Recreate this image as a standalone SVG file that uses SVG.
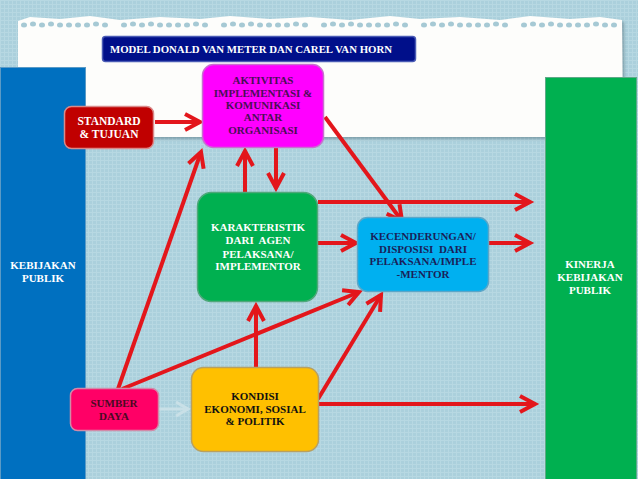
<svg xmlns="http://www.w3.org/2000/svg" width="638" height="479" viewBox="0 0 638 479">
<defs>
<pattern id="grid" width="4" height="4" patternUnits="userSpaceOnUse">
<rect width="4" height="4" fill="#abd0dc"/>
<path d="M0,0.5 H4 M0.5,0 V4" stroke="#b7d8e2" stroke-width="1"/>
</pattern>
<marker id="ah" markerUnits="userSpaceOnUse" viewBox="-18 -10 20 20" refX="0" refY="0" markerWidth="20" markerHeight="20" orient="auto" overflow="visible">
<path d="M-15,-8 L0,0 L-15,8" fill="none" stroke="#e3161b" stroke-width="4" stroke-linejoin="miter"/>
</marker>
<marker id="ahg" markerUnits="userSpaceOnUse" viewBox="-18 -10 20 20" refX="0" refY="0" markerWidth="20" markerHeight="20" orient="auto" overflow="visible">
<path d="M-12,-7 L0,0 L-12,7" fill="none" stroke="#c9e0e7" stroke-width="3"/>
</marker>
<filter id="sh" x="-5%" y="-5%" width="115%" height="120%">
<feDropShadow dx="2" dy="2" stdDeviation="1.5" flood-color="#5a7a85" flood-opacity="0.6"/>
</filter>
</defs>
<style>
.t{font-family:"Liberation Serif","Times New Roman",serif;font-weight:bold;text-anchor:middle;font-size:11px}
.c{fill:none;stroke:#e3161b;stroke-width:4;marker-end:url(#ah)}
.h{fill:#a6c9d4}
</style>
<rect width="638" height="479" fill="url(#grid)"/>
<g id="paper">
<path d="M18,21 L30,17 L60,19 L90,16 L120,20 L160,17 L200,19 L230,16 L270,19 L310,17 L350,20 L390,16 L420,19 L460,17 L500,20 L530,16 L570,19 L600,17 L622,20 L623,137 L18,137 Z" fill="#fdfdfb" filter="url(#sh)"/>
<g class="h">
<ellipse class="h" cx="24" cy="25" rx="3" ry="2.5"/><ellipse class="h" cx="33" cy="24" rx="3" ry="2.5"/><ellipse class="h" cx="42" cy="25" rx="3" ry="2.5"/><ellipse class="h" cx="51" cy="24" rx="3" ry="2.5"/><ellipse class="h" cx="60" cy="25" rx="3" ry="2.5"/><ellipse class="h" cx="69" cy="25" rx="3" ry="2.5"/><ellipse class="h" cx="78" cy="25" rx="3" ry="2.5"/><ellipse class="h" cx="87" cy="25" rx="3" ry="2.5"/><ellipse class="h" cx="96" cy="24" rx="3" ry="2.5"/><ellipse class="h" cx="105" cy="25" rx="3" ry="2.5"/>
<ellipse class="h" cx="124" cy="25" rx="3" ry="2.5"/><ellipse class="h" cx="133" cy="24" rx="3" ry="2.5"/><ellipse class="h" cx="142" cy="25" rx="3" ry="2.5"/><ellipse class="h" cx="151" cy="24" rx="3" ry="2.5"/><ellipse class="h" cx="160" cy="25" rx="3" ry="2.5"/><ellipse class="h" cx="169" cy="25" rx="3" ry="2.5"/><ellipse class="h" cx="178" cy="25" rx="3" ry="2.5"/><ellipse class="h" cx="187" cy="25" rx="3" ry="2.5"/><ellipse class="h" cx="196" cy="24" rx="3" ry="2.5"/><ellipse class="h" cx="205" cy="25" rx="3" ry="2.5"/>
<ellipse class="h" cx="224" cy="25" rx="3" ry="2.5"/><ellipse class="h" cx="233" cy="24" rx="3" ry="2.5"/><ellipse class="h" cx="242" cy="25" rx="3" ry="2.5"/><ellipse class="h" cx="251" cy="24" rx="3" ry="2.5"/><ellipse class="h" cx="260" cy="25" rx="3" ry="2.5"/><ellipse class="h" cx="269" cy="25" rx="3" ry="2.5"/><ellipse class="h" cx="278" cy="25" rx="3" ry="2.5"/><ellipse class="h" cx="287" cy="25" rx="3" ry="2.5"/><ellipse class="h" cx="296" cy="24" rx="3" ry="2.5"/><ellipse class="h" cx="305" cy="25" rx="3" ry="2.5"/>
<ellipse class="h" cx="324" cy="25" rx="3" ry="2.5"/><ellipse class="h" cx="333" cy="24" rx="3" ry="2.5"/><ellipse class="h" cx="342" cy="25" rx="3" ry="2.5"/><ellipse class="h" cx="351" cy="24" rx="3" ry="2.5"/><ellipse class="h" cx="360" cy="25" rx="3" ry="2.5"/><ellipse class="h" cx="369" cy="25" rx="3" ry="2.5"/><ellipse class="h" cx="378" cy="25" rx="3" ry="2.5"/><ellipse class="h" cx="387" cy="25" rx="3" ry="2.5"/><ellipse class="h" cx="396" cy="24" rx="3" ry="2.5"/><ellipse class="h" cx="405" cy="25" rx="3" ry="2.5"/>
<ellipse class="h" cx="424" cy="25" rx="3" ry="2.5"/><ellipse class="h" cx="433" cy="24" rx="3" ry="2.5"/><ellipse class="h" cx="442" cy="25" rx="3" ry="2.5"/><ellipse class="h" cx="451" cy="24" rx="3" ry="2.5"/><ellipse class="h" cx="460" cy="25" rx="3" ry="2.5"/><ellipse class="h" cx="469" cy="25" rx="3" ry="2.5"/><ellipse class="h" cx="478" cy="25" rx="3" ry="2.5"/><ellipse class="h" cx="487" cy="25" rx="3" ry="2.5"/><ellipse class="h" cx="496" cy="24" rx="3" ry="2.5"/><ellipse class="h" cx="505" cy="25" rx="3" ry="2.5"/>
<ellipse class="h" cx="524" cy="25" rx="3" ry="2.5"/><ellipse class="h" cx="533" cy="24" rx="3" ry="2.5"/><ellipse class="h" cx="542" cy="25" rx="3" ry="2.5"/><ellipse class="h" cx="551" cy="24" rx="3" ry="2.5"/><ellipse class="h" cx="560" cy="25" rx="3" ry="2.5"/><ellipse class="h" cx="569" cy="25" rx="3" ry="2.5"/><ellipse class="h" cx="578" cy="25" rx="3" ry="2.5"/><ellipse class="h" cx="587" cy="25" rx="3" ry="2.5"/><ellipse class="h" cx="596" cy="24" rx="3" ry="2.5"/><ellipse class="h" cx="605" cy="25" rx="3" ry="2.5"/><ellipse class="h" cx="614" cy="25" rx="3" ry="2.5"/>
</g>
</g>
<g id="title">
<rect x="102.5" y="36.5" width="313" height="25" rx="3" fill="#000f8a" stroke="#4a5bb5" stroke-width="1.5"/>
<text class="t" x="251" y="53" fill="#ffffff" style="font-size:10.8px">MODEL DONALD VAN METER DAN CAREL VAN HORN</text>
</g>
<g id="kebijakan">
<rect x="0.5" y="67.5" width="85" height="412" fill="#0070c0" stroke="#5a9ac6" stroke-width="1"/>
<text class="t" fill="#ffffff" x="43" y="269">KEBIJAKAN</text>
<text class="t" fill="#ffffff" x="43" y="282">PUBLIK</text>
</g>
<g id="kinerja">
<rect x="545.5" y="77.5" width="91" height="402" fill="#00b050" stroke="#5fa988" stroke-width="1"/>
<text class="t" fill="#ffffff" x="590" y="268">KINERJA</text>
<text class="t" fill="#ffffff" x="590" y="281">KEBIJAKAN</text>
<text class="t" fill="#ffffff" x="590" y="294">PUBLIK</text>
</g>
<g id="connectors">
<line class="c" x1="155" y1="122" x2="200" y2="122"/>
<line class="c" x1="245" y1="192" x2="245" y2="151"/>
<line class="c" x1="276" y1="148" x2="276" y2="188"/>
<line class="c" x1="118" y1="389" x2="201" y2="152"/>
<line class="c" x1="325" y1="117" x2="402" y2="221"/>
<line class="c" x1="318" y1="202" x2="530" y2="202"/>
<line class="c" x1="318" y1="243" x2="356" y2="243"/>
<line class="c" x1="489" y1="243" x2="530" y2="243"/>
<line class="c" x1="122" y1="389" x2="359" y2="292"/>
<line class="c" x1="256" y1="367" x2="256" y2="306"/>
<line class="c" x1="318" y1="399" x2="381" y2="295"/>
<line class="c" x1="316" y1="404" x2="535" y2="404"/>
<line x1="159" y1="409" x2="188" y2="409" stroke="#c9e0e7" stroke-width="3" marker-end="url(#ahg)"/>
</g>
<g id="standard">
<rect x="64.5" y="106.5" width="89" height="42" rx="7" fill="#c00000" stroke="#d98a8a" stroke-width="1.5"/>
<text class="t" fill="#ffffff" x="109" y="125" style="font-size:11.5px">STANDARD</text>
<text class="t" fill="#ffffff" x="109" y="138" style="font-size:11.5px">&amp; TUJUAN</text>
</g>
<g id="aktivitas">
<rect x="202.5" y="64.5" width="121" height="83" rx="11" fill="#ff00ff" stroke="#c86fd0" stroke-width="1.5"/>
<text class="t" fill="#4a0f55" x="263" y="84">AKTIVITAS</text>
<text class="t" fill="#4a0f55" x="263" y="97">IMPLEMENTASI &amp;</text>
<text class="t" fill="#4a0f55" x="263" y="109">KOMUNIKASI</text>
<text class="t" fill="#4a0f55" x="263" y="121">ANTAR</text>
<text class="t" fill="#4a0f55" x="263" y="134">ORGANISASI</text>
</g>
<g id="karakteristik">
<rect x="197.5" y="192.5" width="120" height="109" rx="14" fill="#00b050" stroke="#4fa87a" stroke-width="1.5"/>
<text class="t" fill="#ffffff" x="258" y="231">KARAKTERISTIK</text>
<text class="t" fill="#ffffff" x="258" y="244" style="white-space:pre">DARI  AGEN</text>
<text class="t" fill="#ffffff" x="258" y="258">PELAKSANA/</text>
<text class="t" fill="#ffffff" x="258" y="270">IMPLEMENTOR</text>
</g>
<g id="kecenderungan">
<rect x="357.5" y="217.5" width="131" height="74" rx="10" fill="#00b0f0" stroke="#5aa6c8" stroke-width="1.5"/>
<text class="t" fill="#1a1f5a" x="423" y="240">KECENDERUNGAN/</text>
<text class="t" fill="#1a1f5a" x="423" y="253" style="white-space:pre">DISPOSISI  DARI</text>
<text class="t" fill="#1a1f5a" x="423" y="265">PELAKSANA/IMPLE</text>
<text class="t" fill="#1a1f5a" x="423" y="278">-MENTOR</text>
</g>
<g id="sumber">
<rect x="70.5" y="388.5" width="88" height="42" rx="7" fill="#ff0066" stroke="#d28aa8" stroke-width="1.5"/>
<text class="t" fill="#4a0a22" x="114" y="407">SUMBER</text>
<text class="t" fill="#4a0a22" x="114" y="420">DAYA</text>
</g>
<g id="kondisi">
<rect x="191.5" y="367.5" width="127" height="84" rx="12" fill="#ffc000" stroke="#b8a060" stroke-width="1.5"/>
<text class="t" fill="#111111" x="255" y="400">KONDISI</text>
<text class="t" fill="#111111" x="255" y="413">EKONOMI, SOSIAL</text>
<text class="t" fill="#111111" x="255" y="425">&amp; POLITIK</text>
</g>
</svg>
